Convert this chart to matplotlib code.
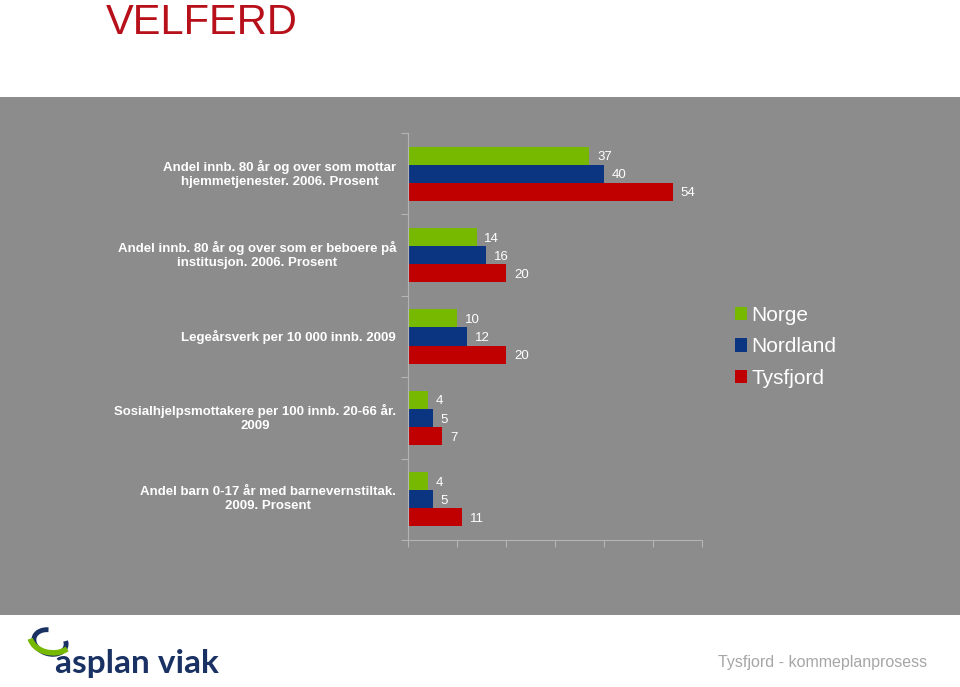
import matplotlib
matplotlib.use("Agg")
import matplotlib.pyplot as plt
from matplotlib.patches import Patch, Rectangle, Arc

# Velferd - Norge / Nordland / Tysfjord
categories = [
    "Andel innb. 80 år og over som mottar\nhjemmetjenester. 2006. Prosent",
    "Andel innb. 80 år og over som er beboere på\ninstitusjon. 2006. Prosent",
    "Legeårsverk per 10 000 innb. 2009",
    "Sosialhjelpsmottakere per 100 innb. 20-66 år.\n2009",
    "Andel barn 0-17 år med barnevernstiltak.\n2009. Prosent",
]
norge = [37, 14, 10, 4, 4]
nordland = [40, 16, 12, 5, 5]
tysfjord = [54, 20, 20, 7, 11]
series_names = ["Norge", "Nordland", "Tysfjord"]
colors = ["#77b900", "#0b3580", "#c00000"]

plt.rcParams['font.family'] = ['Liberation Sans', 'DejaVu Sans']

fig = plt.figure(figsize=(9.6, 6.87), dpi=100)
fig.patch.set_facecolor("white")

# grey panel behind the chart
fig.patches.append(Rectangle((0, 1 - 615 / 687), 1, (615 - 97) / 687,
                             transform=fig.transFigure, facecolor="#8c8c8c",
                             edgecolor="none", zorder=-5))

fig.text(106 / 960, 1 - 34 / 687, "VELFERD", color="#b8101a", fontsize=30,
         ha="left", va="baseline")

ax = fig.add_axes([408 / 960, 1 - 540 / 687, (702 - 408) / 960, (540 - 133) / 687])
ax.set_facecolor("none")

h = 0.222
ys = list(range(len(categories)))
for k, (vals, col) in enumerate(zip([norge, nordland, tysfjord], colors)):
    pos = [y + (k - 1) * h for y in ys]
    ax.barh(pos, vals, height=h, color=col, edgecolor="none")
    for p, v in zip(pos, vals):
        ax.text(v + 1.6, p + 0.02, str(v), color="white", fontsize=9.5,
                ha="left", va="center")

ax.set_xlim(0, 60)
ax.set_ylim(len(categories) - 0.5, -0.5)
ax.set_xticks(range(0, 61, 10))
ax.set_xticklabels([])
ax.set_yticks([y - 0.5 for y in range(len(categories) + 1)])
ax.set_yticklabels([])
ax.tick_params(axis="both", color="#b4b4b4", length=5, width=0.8)
for s in ["top", "right"]:
    ax.spines[s].set_visible(False)
for s in ["left", "bottom"]:
    ax.spines[s].set_color("#b4b4b4")
    ax.spines[s].set_linewidth(0.8)

for y, lab in zip(ys, categories):
    ax.text(-2.4, y, lab, color="white", fontsize=9.5, fontweight="bold",
            ha="right", va="center", multialignment="center",
            transform=ax.transData)

handles = [Patch(facecolor=c, edgecolor="none") for c in colors]
fig.legend(handles, series_names, loc="upper left",
           bbox_to_anchor=(716 / 960, 1 - 287 / 687), frameon=False,
           fontsize=15, labelcolor="white", handlelength=0.6,
           handleheight=0.6, handletextpad=0.2, labelspacing=0.6)

# footer
fig.text(718 / 960, 1 - 662 / 687, "Tysfjord - kommeplanprosess",
         color="#a6a6a6", fontsize=11.5, ha="left", va="center")
fig.text(55 / 960, 1 - 673 / 687, "asplan viak", color="#1a3163",
         fontsize=24, fontweight="bold", family=["Lato", "DejaVu Sans"],
         ha="left", va="baseline")
fig.patches.append(Arc((50 / 960, 1 - 642 / 687), 30 / 960, 26 / 687,
                       angle=35, theta1=60, theta2=330,
                       transform=fig.transFigure,
                       edgecolor="#1a3163", linewidth=3.5))
fig.patches.append(Arc((52 / 960, 1 - 636 / 687), 44 / 960, 34 / 687,
                       angle=20, theta1=170, theta2=290,
                       transform=fig.transFigure,
                       edgecolor="#77b900", linewidth=4))

fig.savefig("out.png", dpi=100, facecolor=fig.get_facecolor())
